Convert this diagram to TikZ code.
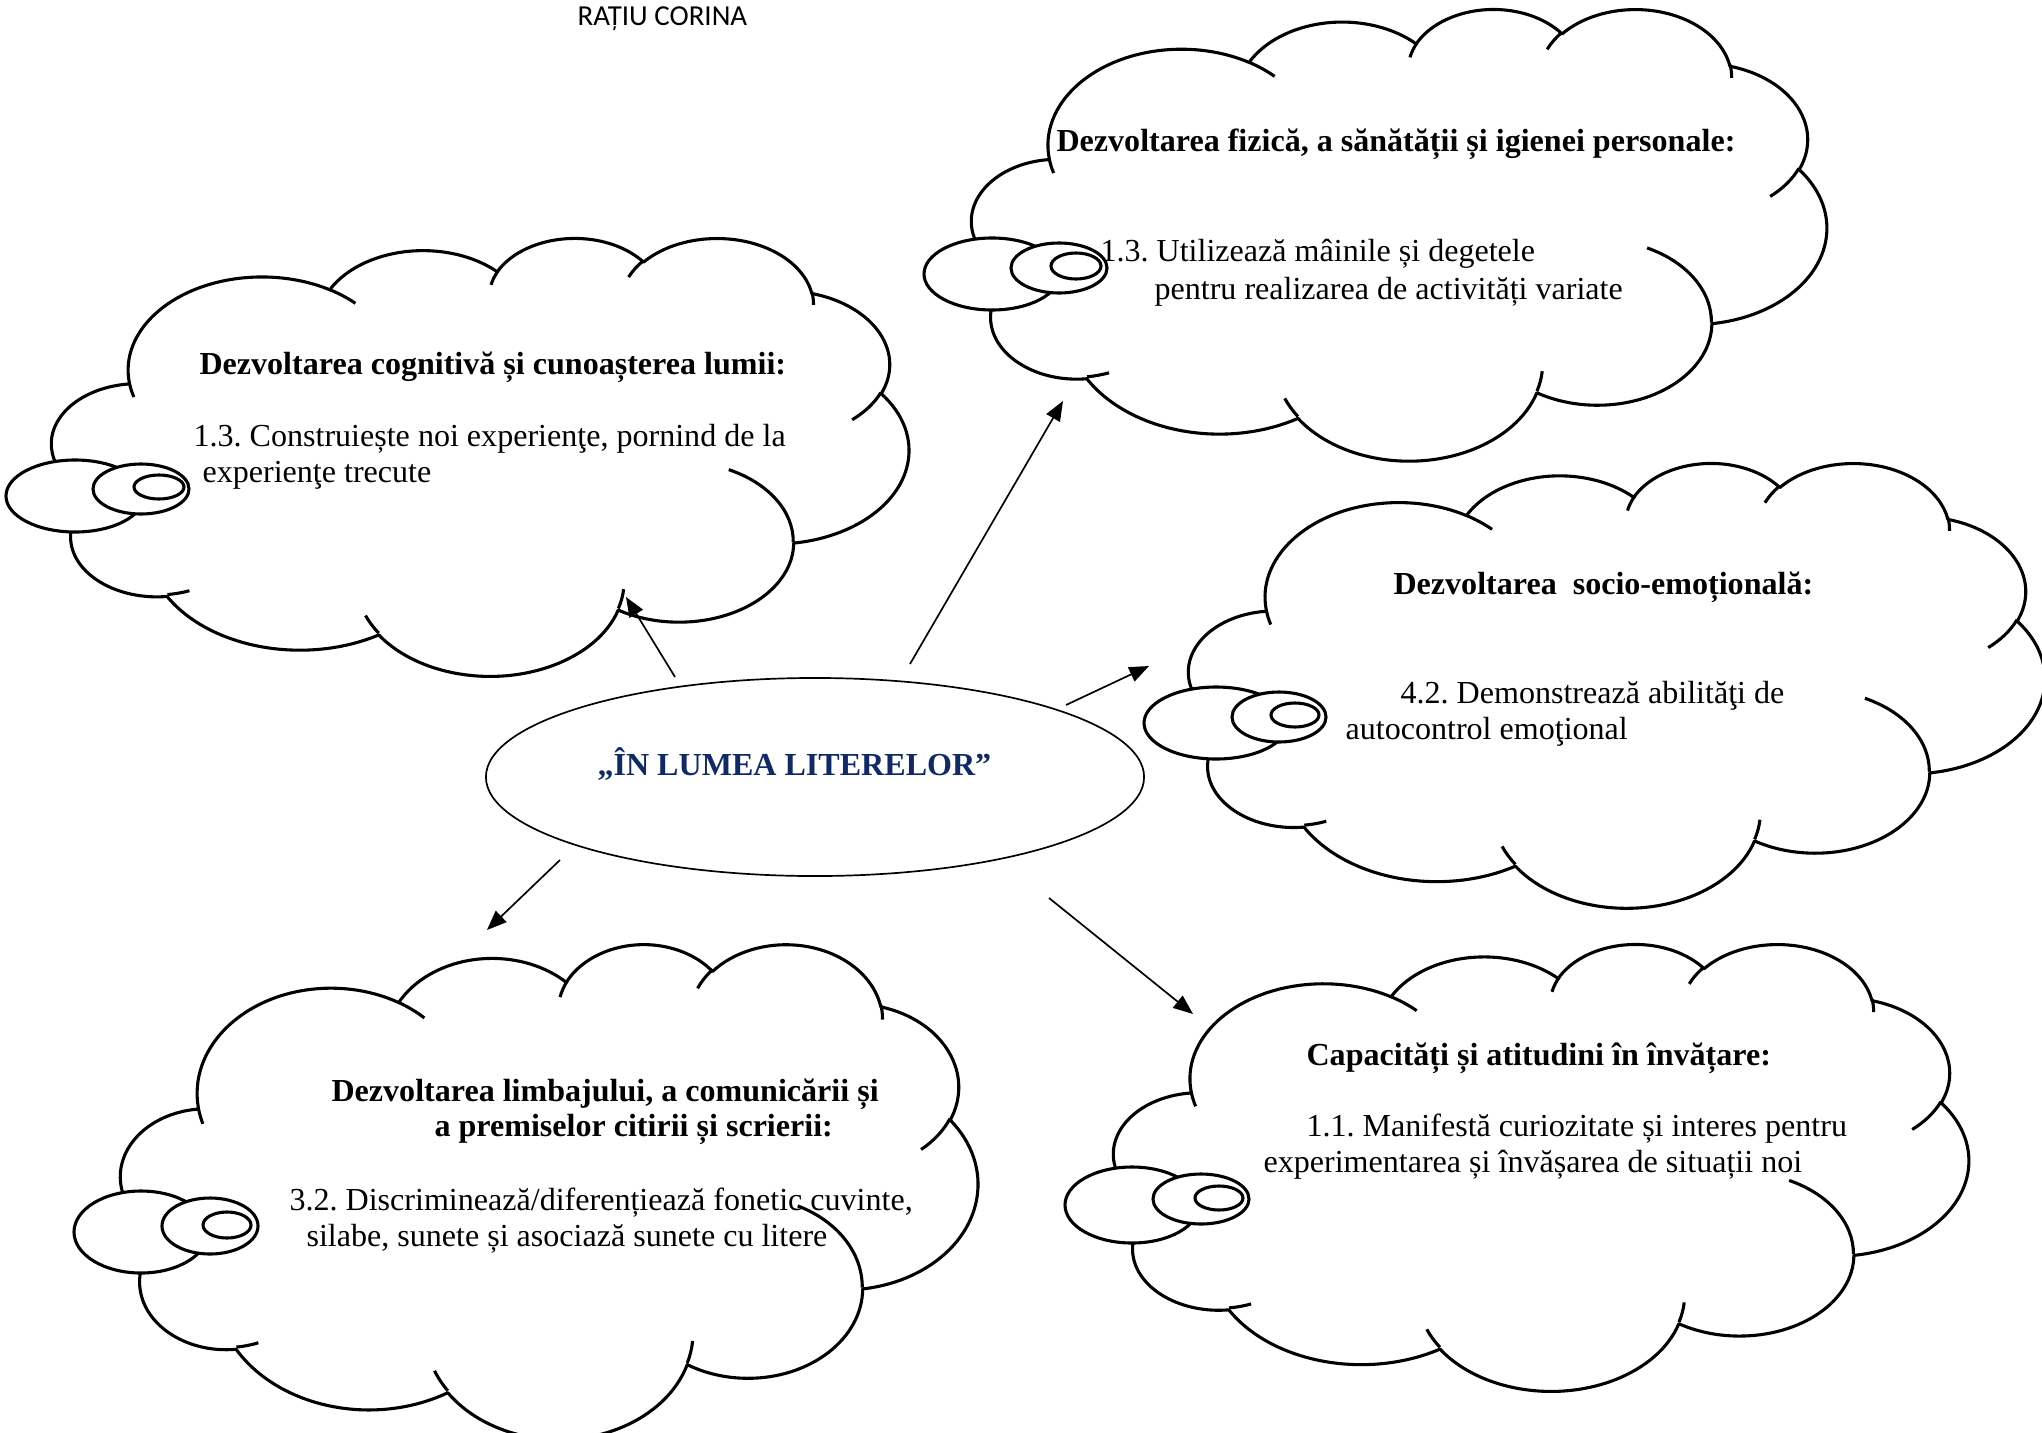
\documentclass[tikz,border=0pt]{standalone}
\usepackage{fontspec}
\setmainfont{Liberation Serif}
\newfontfamily\titlefont{Carlito}
\usetikzlibrary{arrows.meta,shapes.geometric}
\definecolor{navyblue}{RGB}{16,42,104}
\frenchspacing
% DrawingML cloud arcs: visual angle -> parametric angle
\newcommand\mkarc[5]{%
  \pgfmathsetmacro\myTa{atan2(#2*sin(#4),#3*cos(#4))}%
  \pgfmathsetmacro\myTb{atan2(#2*sin(#4+#5),#3*cos(#4+#5))}%
  \pgfmathsetmacro\myTd{Mod(\myTb-(\myTa),360)}%
  \expandafter\xdef\csname #1s\endcsname{\myTa}%
  \expandafter\xdef\csname #1d\endcsname{\myTd}}
\mkarc{cldA}{67.53}{91.90}{-190.48748}{123.78053}
\mkarc{cldB}{53.33}{72.67}{-144.10238}{89.94523}
\mkarc{cldC}{43.65}{59.45}{-145.80792}{99.72302}
\mkarc{cldD}{48.57}{65.95}{-130.98607}{117.24173}
\mkarc{cldE}{53.33}{72.73}{-78.70888}{109.02692}
\mkarc{cldF}{67.75}{92.20}{-46.26725}{130.26900}
\mkarc{cldG}{57.85}{78.67}{0.62502}{114.03333}
\mkarc{cldH}{67.52}{92.15}{22.45160}{115.17255}
\mkarc{cldI}{77.20}{105.43}{66.24263}{75.71102}
\mkarc{cldJ}{43.60}{59.18}{-274.94208}{146.73557}
\mkarc{cldK}{43.45}{59.45}{-246.82850}{152.51885}
\mkarc{stbA}{43.45}{59.45}{86.74200}{26.42950}
\mkarc{stbB}{43.60}{59.18}{73.61047}{11.44747}
\mkarc{stbC}{67.52}{92.15}{137.62415}{14.08110}
\mkarc{stbD}{67.52}{92.15}{6.45327}{15.99835}
\mkarc{stbE}{57.85}{78.67}{-70.29235}{70.91737}
\mkarc{stbF}{53.33}{72.73}{30.31803}{27.75150}
\mkarc{stbG}{48.57}{65.95}{-13.74433}{14.85890}
\mkarc{stbH}{48.57}{65.95}{-149.18145}{18.19537}
\mkarc{stbI}{43.65}{59.45}{-163.49427}{17.68635}
\mkarc{stbJ}{67.53}{91.90}{-66.70695}{12.31935}
\mkarc{stbK}{67.53}{91.90}{157.65435}{11.85817}
\tikzset{
  cloudbody/.style={draw=black,fill=white,line width=1.1pt,line join=round},
  stubline/.style={draw=black,line width=1.1pt,line cap=butt},
  tailell/.style={draw=black,fill=white,line width=1.1pt},
  conn/.style={draw=black,line width=0.6pt,-{Triangle[length=7pt,width=5.5pt]}},
  txt/.style={font=\fontsize{11.4}{13}\selectfont,anchor=base west,inner sep=0pt},
  btxt/.style={font=\fontsize{11.4}{13}\selectfont\bfseries,anchor=base west,inner sep=0pt},
}
% #1 name, #2 x0, #3 y0, #4 W, #5 H
\newcommand\drawcloud[5]{%
  \pgfmathsetmacro\cldsx{#4*0.0125/432}%
  \pgfmathsetmacro\cldsy{#5*0.0125/432}%
  \begin{scope}[shift={(#2,#3)},x={(\cldsx cm,0cm)},y={(0cm,-\cldsy cm)}]
    \path[cloudbody] (39.00,143.70)
      arc[x radius=67.53,y radius=91.90,start angle=\cldAs,delta angle=\cldAd]
      arc[x radius=53.33,y radius=72.67,start angle=\cldBs,delta angle=\cldBd]
      arc[x radius=43.65,y radius=59.45,start angle=\cldCs,delta angle=\cldCd]
      arc[x radius=48.57,y radius=65.95,start angle=\cldDs,delta angle=\cldDd]
      arc[x radius=53.33,y radius=72.73,start angle=\cldEs,delta angle=\cldEd]
      arc[x radius=67.75,y radius=92.20,start angle=\cldFs,delta angle=\cldFd]
      arc[x radius=57.85,y radius=78.67,start angle=\cldGs,delta angle=\cldGd]
      arc[x radius=67.52,y radius=92.15,start angle=\cldHs,delta angle=\cldHd]
      arc[x radius=77.20,y radius=105.43,start angle=\cldIs,delta angle=\cldId]
      arc[x radius=43.60,y radius=59.18,start angle=\cldJs,delta angle=\cldJd]
      arc[x radius=43.45,y radius=59.45,start angle=\cldKs,delta angle=\cldKd]
      -- cycle;
    \path[stubline]
      (46.93,261.77) arc[x radius=43.45,y radius=59.45,start angle=\stbAs,delta angle=\stbAd]
      (69.28,348.99) arc[x radius=43.60,y radius=59.18,start angle=\stbBs,delta angle=\stbBd]
      (164.78,390.90) arc[x radius=67.52,y radius=92.15,start angle=\stbCs,delta angle=\stbCd]
      (288.27,347.51) arc[x radius=67.52,y radius=92.15,start angle=\stbDs,delta angle=\stbDd]
      (341.29,229.54) arc[x radius=57.85,y radius=78.67,start angle=\stbEs,delta angle=\stbEd]
      (417.98,153.54) arc[x radius=53.33,y radius=72.73,start angle=\stbFs,delta angle=\stbFd]
      (383.24,54.26) arc[x radius=48.57,y radius=65.95,start angle=\stbGs,delta angle=\stbGd]
      (290.78,39.52) arc[x radius=48.57,y radius=65.95,start angle=\stbHs,delta angle=\stbHd]
      (221.41,47.20) arc[x radius=43.65,y radius=59.45,start angle=\stbIs,delta angle=\stbId]
      (140.00,51.92) arc[x radius=67.53,y radius=91.90,start angle=\stbJs,delta angle=\stbJd]
      (41.27,157.89) arc[x radius=67.53,y radius=91.90,start angle=\stbKs,delta angle=\stbKd];
    \coordinate (#1) at (216,216);
  \end{scope}}
\newcommand\drawtail[9]{%
  \draw[tailell] (#1,#2) ellipse[x radius=#3,y radius=#4];
  \draw[tailell] (#5,#6) ellipse[x radius=#7,y radius=#8];
  \draw[tailell] #9;}
\begin{document}
\begin{tikzpicture}[x=0.0125cm,y=-0.0125cm]
\useasboundingbox (0,0) rectangle (2042,1432);
\fill[white] (0,0) rectangle (2042,1432);
% title
\node[font=\titlefont\fontsize{10.3}{12}\selectfont,anchor=base west,inner sep=0pt] (author) at (577,26) {RAȚIU CORINA};
% clouds
\drawcloud{cloudA}{52}{237}{857}{438}
\drawtail{75}{496}{69}{36}{141}{489}{48}{25}{(159,487) ellipse[x radius=25,y radius=12]}
\drawcloud{cloudB}{972}{8}{855}{452}
\drawtail{992}{274}{68}{36}{1059}{268}{48}{25}{(1076,266) ellipse[x radius=25,y radius=13]}
\drawcloud{cloudC}{1189}{462}{856}{445}
\drawtail{1216}{723}{72}{36}{1279}{717}{47}{25}{(1295,715) ellipse[x radius=24,y radius=12]}
\drawcloud{cloudD}{121}{943}{857}{495}
\drawtail{141}{1232}{67}{41}{210}{1226}{48}{28}{(227,1225) ellipse[x radius=24,y radius=13]}
\drawcloud{cloudE}{1114}{943}{855}{447}
\drawtail{1132}{1205}{67}{38}{1201}{1199}{48}{25}{(1219,1198) ellipse[x radius=24,y radius=12]}
% centre ellipse
\node[draw=black,ellipse,line width=0.6pt,minimum width=8.225cm,minimum height=2.475cm,inner sep=0pt] (centre) at (815,777) {};
\node[btxt,text=navyblue] (centretext) at (597,775) {„ÎN LUMEA LITERELOR”};
% texts
\node[btxt] (hA) at (199,374) {Dezvoltarea cognitivă și cunoașterea lumii:};
\node[txt] (bA1) at (193,446) {1.3. Construiește noi experienţe, pornind de la};
\node[txt] (bA2) at (202,482) {experienţe trecute};
\node[btxt] (hB) at (1056,151) {Dezvoltarea fizică, a sănătății și igienei personale:};
\node[txt] (bB1) at (1100,261) {1.3. Utilizează mâinile și degetele};
\node[txt] (bB2) at (1154,299) {pentru realizarea de activități variate};
\node[btxt] (hC) at (1393,594) {Dezvoltarea\ \ socio-emoțională:};
\node[txt] (bC1) at (1400,703) {4.2. Demonstrează abilităţi de};
\node[txt] (bC2) at (1345,739) {autocontrol emoţional};
\node[btxt] (hD1) at (331,1101) {Dezvoltarea limbajului, a comunicării și};
\node[btxt] (hD2) at (434,1136) {a premiselor citirii și scrierii:};
\node[txt] (bD1) at (289,1210) {3.2. Discriminează/diferențiează fonetic cuvinte,};
\node[txt] (bD2) at (306,1246) {silabe, sunete și asociază sunete cu litere};
\node[btxt] (hE) at (1306,1065) {Capacități și atitudini în învățare:};
\node[txt] (bE1) at (1306,1136) {1.1. Manifestă curiozitate și interes pentru};
\node[txt] (bE2) at (1263,1172) {experimentarea și învășarea de situații noi};
% connectors
\coordinate (sA) at (675,677); \coordinate (tA) at (626,597);
\coordinate (sB) at (910,664); \coordinate (tB) at (1063,401);
\coordinate (sC) at (1066,705); \coordinate (tC) at (1149,666);
\coordinate (sD) at (560,860); \coordinate (tD) at (487,930);
\coordinate (sE) at (1049,898); \coordinate (tE) at (1193,1014);
\draw[conn] (sA) -- (tA);
\draw[conn] (sB) -- (tB);
\draw[conn] (sC) -- (tC);
\draw[conn] (sD) -- (tD);
\draw[conn] (sE) -- (tE);
\end{tikzpicture}
\end{document}
